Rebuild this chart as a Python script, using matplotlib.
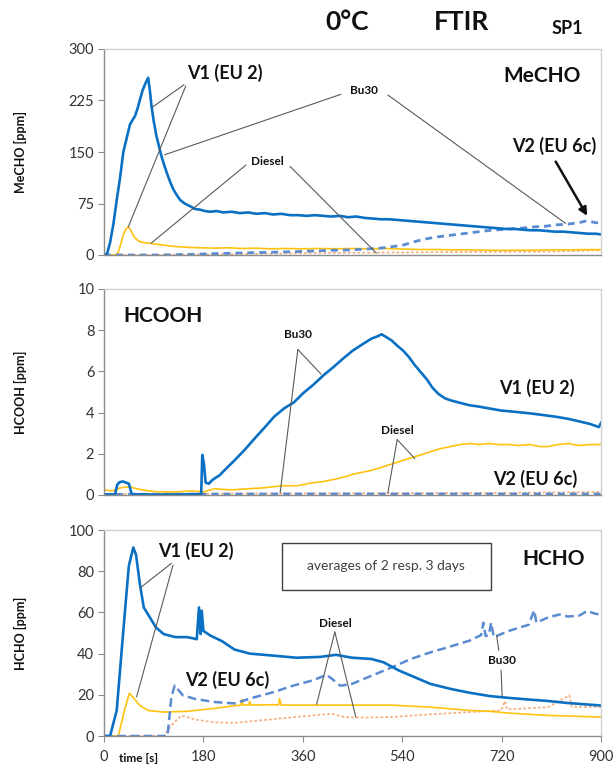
import matplotlib
matplotlib.use("Agg")
import matplotlib.pyplot as plt
from matplotlib.patches import Rectangle

plt.rcParams['font.family'] = ['Lato', 'DejaVu Sans']

# ---------------- data ----------------
# MeCHO panel
mecho_v1_bu30_t = [0, 2, 6, 11, 17, 23, 29, 35, 41, 47, 52, 56, 61, 65, 70, 74, 78, 80, 83, 86, 90, 95, 100, 104,
                   109, 114, 120, 126, 132, 138, 146, 156, 165, 174, 183, 192, 204, 216, 231, 246, 261, 276, 291,
                   306, 321, 337, 352, 367, 382, 397, 412, 427, 442, 457, 472, 487, 502, 517, 532, 547, 562, 577,
                   592, 607, 622, 637, 652, 667, 682, 697, 712, 727, 742, 757, 772, 787, 802, 817, 832, 847, 862,
                   877, 890, 900]
mecho_v1_bu30 = [0, 0, 3, 18, 45, 80, 112, 150, 170, 190, 197, 202, 214, 226, 240, 248, 255, 258, 240, 217, 195,
                 173, 157, 144, 131, 119, 106, 95, 87, 80, 75, 71, 67, 66, 64, 63, 64, 62, 63, 61, 62, 60, 61, 59,
                 60, 58, 58, 57, 58, 57, 56, 57, 55, 56, 54, 53, 52, 52, 51, 50, 49, 48, 47, 46, 45, 44, 43, 42,
                 41, 40, 39, 38, 38, 37, 36, 36, 35, 34, 34, 33, 32, 31, 31, 30]
mecho_v1_diesel_t = [0, 20, 25, 30, 35, 40, 44, 48, 54, 60, 65, 72, 83, 95, 107, 120, 135, 156, 175, 200, 225, 250,
                     275, 300, 330, 360, 390, 420, 450, 480, 510, 540, 570, 600, 630, 660, 690, 720, 750, 780, 810,
                     840, 870, 900]
mecho_v1_diesel = [0, 0, 2, 15, 30, 38, 41, 37, 27, 22, 19.5, 18, 17, 15.5, 14.6, 13, 12, 11, 10.5, 10, 10.5, 9.5,
                   10, 9, 9.5, 9, 9.5, 9, 9.5, 9, 9.5, 8.7, 8, 8, 7.5, 7.5, 7, 6.8, 7, 7, 7.5, 7.5, 7.8, 7.8]
mecho_v2_bu30_t = [0, 100, 130, 160, 200, 250, 300, 350, 400, 450, 480, 500, 520, 540, 560, 580, 600, 620, 640, 660,
                   680, 700, 720, 740, 760, 780, 800, 820, 840, 860, 875, 890, 900]
mecho_v2_bu30 = [0, 0, 0.5, 1, 2, 3, 4, 5, 6.5, 7.5, 9, 10, 12, 14, 19, 23, 26, 28, 30, 32, 34, 36, 37, 38, 39.5, 41,
                 42, 44, 45, 47, 50, 47, 47]
mecho_v2_diesel_t = [0, 120, 200, 300, 400, 500, 600, 700, 800, 860, 900]
mecho_v2_diesel = [0, 0, 1, 2, 3, 3.5, 4, 4.5, 5, 6, 7]

# HCOOH panel
hcooh_v1_bu30_t = [0, 20, 24, 28, 34, 40, 45, 50, 60, 100, 150, 176, 178, 181, 184, 190, 195, 200, 209, 220, 237,
                   255, 273, 290, 308, 326, 344, 361, 379, 397, 415, 432, 450, 467, 485, 495, 503, 512, 521, 531,
                   542, 552, 563, 574, 585, 595, 606, 617, 627, 648, 663, 677, 698, 719, 740, 769, 790, 818, 840,
                   861, 880, 896, 900]
hcooh_v1_bu30 = [0.02, 0.03, 0.5, 0.62, 0.66, 0.6, 0.55, 0.05, 0.03, 0.02, 0.03, 0.05, 1.95, 1.5, 0.6, 0.55, 0.7,
                 0.8, 0.95, 1.25, 1.7, 2.2, 2.75, 3.25, 3.8, 4.2, 4.5, 4.95, 5.35, 5.8, 6.2, 6.6, 7.0, 7.3, 7.6,
                 7.7, 7.8, 7.65, 7.5, 7.25, 7.0, 6.7, 6.3, 5.95, 5.6, 5.2, 4.9, 4.7, 4.6, 4.45, 4.35, 4.3, 4.2, 4.1,
                 4.05, 3.97, 3.9, 3.8, 3.7, 3.57, 3.45, 3.3, 3.5]
hcooh_v1_diesel_t = [0, 15, 30, 46, 60, 80, 100, 130, 160, 180, 200, 230, 260, 290, 322, 350, 379, 397, 415, 432,
                     450, 467, 485, 503, 521, 538, 556, 574, 591, 609, 627, 645, 663, 680, 698, 715, 733, 750, 770,
                     790, 804, 822, 840, 860, 880, 900]
hcooh_v1_diesel = [0.25, 0.2, 0.35, 0.4, 0.3, 0.2, 0.15, 0.15, 0.2, 0.15, 0.3, 0.25, 0.3, 0.35, 0.45, 0.45, 0.6,
                   0.65, 0.75, 0.85, 1.0, 1.1, 1.2, 1.35, 1.5, 1.65, 1.8, 1.95, 2.1, 2.25, 2.35, 2.45, 2.5, 2.45,
                   2.5, 2.45, 2.45, 2.4, 2.45, 2.35, 2.35, 2.45, 2.5, 2.4, 2.45, 2.45]
hcooh_v2_bu30_t = [0, 150, 300, 450, 600, 750, 900]
hcooh_v2_bu30 = [0.03, 0.04, 0.05, 0.05, 0.05, 0.05, 0.05]
hcooh_v2_diesel_t = [0, 200, 400, 550, 700, 800, 900]
hcooh_v2_diesel = [0.05, 0.06, 0.08, 0.09, 0.1, 0.12, 0.15]

# HCHO panel
hcho_v1_bu30_t = [0, 11, 23, 33, 40, 45, 53, 58, 65, 72, 83, 94, 108, 129, 151, 168, 172, 175, 177, 180, 193, 214,
                  236, 264, 307, 349, 392, 420, 449, 484, 506, 534, 563, 591, 627, 662, 698, 733, 769, 804, 840,
                  875, 900]
hcho_v1_bu30 = [0, 0, 12.4, 44.7, 67, 82.6, 91.5, 88, 73.7, 62.4, 57.6, 52.7, 49.5, 48, 48, 47, 62.4, 49.5, 60.8,
                51, 48.7, 46, 42, 40, 39, 38, 38.4, 39.4, 38, 37.4, 35.8, 31.8, 28.5, 25.3, 22.9, 21, 19.4, 18.5,
                17.7, 17, 16, 15.3, 14.8]
hcho_v1_diesel_t = [0, 26, 37, 46, 55, 65, 80, 108, 151, 200, 236, 248, 250, 252, 262, 264, 266, 307, 316, 318,
                    321, 378, 450, 520, 591, 662, 698, 733, 804, 900]
hcho_v1_diesel = [0, 0, 12.4, 20.8, 18, 14.8, 12.4, 11.6, 12, 13.4, 14.7, 15, 17.7, 15, 15, 16.8, 15, 15.2, 15,
                  18.2, 15, 15, 15, 15, 14, 12.4, 12, 11.1, 10, 9.2]
hcho_v2_bu30_t = [0, 115, 122, 128, 143, 165, 200, 236, 271, 307, 342, 378, 403, 413, 428, 449, 484, 520, 556, 591,
                  627, 662, 683, 687, 691, 697, 701, 706, 733, 769, 779, 783, 804, 825, 840, 861, 875, 889, 900]
hcho_v2_bu30 = [0, 0, 18.9, 24.5, 19.7, 18, 16.5, 15.8, 18.7, 21.3, 24.4, 27, 29.7, 27.7, 24.4, 25.3, 29.2, 33.2,
                37.4, 40.6, 43.4, 46.3, 49, 55, 48.5, 49, 55, 48, 51, 54, 61, 55, 57.6, 59, 58, 58.5, 60.7, 59.4,
                58.9]
hcho_v2_diesel_t = [0, 108, 125, 140, 165, 200, 236, 307, 378, 413, 435, 463, 520, 591, 662, 719, 726, 730, 804,
                    843, 847, 900]
hcho_v2_diesel = [0, 0, 6, 10, 8, 6.6, 6.4, 8.2, 10, 10.8, 9.2, 8.9, 9.2, 10.5, 11.6, 12.4, 17, 12.9, 14, 19.7,
                  14.2, 14]

time_ticks = [0, 180, 360, 540, 720, 900]

# ---------------- style ----------------
c_bu30_v1 = '#0a70c4'
c_diesel_v1 = '#ffc20e'
c_bu30_v2 = '#5b8bd0'
c_diesel_v2 = '#f5b183'
lead = '#5a5a5a'

fig = plt.figure(figsize=(6.14, 7.67), dpi=100)
L, W = 104 / 614, 497 / 614
H = 206 / 767
ax1 = fig.add_axes([L, 1 - 255 / 767, W, H])
ax2 = fig.add_axes([L, 1 - 495 / 767, W, H])
ax3 = fig.add_axes([L, 1 - 736 / 767, W, H])


def style(ax, ymax, step, bottom_labels):
    ax.set_xlim(0, 900)
    ax.set_ylim(0, ymax)
    ax.set_yticks(range(0, ymax + 1, step))
    ax.set_xticks(time_ticks)
    for s in ['top', 'right']:
        ax.spines[s].set_color('#d0d0d0')
    for s in ['left', 'bottom']:
        ax.spines[s].set_color('#8c8c8c')
    for s in ax.spines.values():
        s.set_linewidth(1.0)
    ax.tick_params(axis='y', direction='out', length=4, color='#8c8c8c', labelsize=10.5, labelcolor='#333333', pad=3)
    if bottom_labels:
        ax.tick_params(axis='x', direction='out', length=4, color='#8c8c8c', labelsize=10.5, labelcolor='#333333',
                       pad=6)
    else:
        ax.tick_params(axis='x', length=0, labelbottom=False)


def leader(ax, start, end):
    ax.annotate('', xy=end, xytext=start,
                arrowprops=dict(arrowstyle='-', color=lead, lw=0.8, shrinkA=0, shrinkB=0))


big = dict(fontsize=13, fontweight='bold', color='#111111', ha='center', va='center')
small = dict(fontsize=8.5, fontweight='bold', color='#111111', ha='center', va='center')

# ---- MeCHO
ax1.plot(mecho_v2_diesel_t, mecho_v2_diesel, color=c_diesel_v2, lw=1.3, ls=(0, (1.5, 1.2)))
ax1.plot(mecho_v1_diesel_t, mecho_v1_diesel, color=c_diesel_v1, lw=1.2)
ax1.plot(mecho_v2_bu30_t, mecho_v2_bu30, color=c_bu30_v2, lw=2.0, ls=(0, (2.5, 1.8)))
ax1.plot(mecho_v1_bu30_t, mecho_v1_bu30, color=c_bu30_v1, lw=1.9)
style(ax1, 300, 75, False)
ax1.text(218, 265, 'V1 (EU 2)', **big)
leader(ax1, (145, 248), (87, 215))
leader(ax1, (148, 246), (44, 41))
ax1.text(471, 239, 'Bu30', **small)
leader(ax1, (429, 234), (110, 146))
leader(ax1, (514, 233), (836, 46))
ax1.text(296, 136, 'Diesel', **small)
leader(ax1, (257, 131), (85, 17))
leader(ax1, (337, 129), (493, 3))
ax1.text(815, 159, 'V2 (EU 6c)', **big)
ax1.annotate('', xy=(875, 57), xytext=(818, 136),
             arrowprops=dict(arrowstyle='-|>', color='#111111', lw=1.8, mutation_scale=12, shrinkA=0, shrinkB=0))
ax1.text(793, 261, 'MeCHO', fontsize=15, fontweight='bold', color='#111111', ha='center', va='center')

# ---- HCOOH
ax2.plot(hcooh_v2_diesel_t, hcooh_v2_diesel, color=c_diesel_v2, lw=1.3, ls=(0, (1.5, 1.2)))
ax2.plot(hcooh_v2_bu30_t, hcooh_v2_bu30, color=c_bu30_v2, lw=2.0, ls=(0, (2.5, 1.8)))
ax2.plot(hcooh_v1_diesel_t, hcooh_v1_diesel, color=c_diesel_v1, lw=1.2)
ax2.plot(hcooh_v1_bu30_t, hcooh_v1_bu30, color=c_bu30_v1, lw=1.9)
style(ax2, 10, 2, False)
ax2.text(106, 8.67, 'HCOOH', fontsize=15, fontweight='bold', color='#111111', ha='center', va='center')
ax2.text(351, 7.79, 'Bu30', **small)
leader(ax2, (351, 7.06), (393, 5.87))
leader(ax2, (351, 7.06), (319, 0.1))
ax2.text(531, 3.13, 'Diesel', **small)
leader(ax2, (531, 2.69), (563, 1.76))
leader(ax2, (531, 2.69), (514, 0.1))
ax2.text(783, 5.22, 'V1 (EU 2)', **big)
ax2.text(780, 0.8, 'V2 (EU 6c)', **big)

# ---- HCHO
ax3.plot(hcho_v2_diesel_t, hcho_v2_diesel, color=c_diesel_v2, lw=1.3, ls=(0, (1.5, 1.2)))
ax3.plot(hcho_v1_diesel_t, hcho_v1_diesel, color=c_diesel_v1, lw=1.2)
ax3.plot(hcho_v2_bu30_t, hcho_v2_bu30, color=c_bu30_v2, lw=1.8, ls=(0, (3.5, 1.8)))
ax3.plot(hcho_v1_bu30_t, hcho_v1_bu30, color=c_bu30_v1, lw=1.9)
style(ax3, 100, 20, True)
ax3.set_xticklabels(['0', '180', '360', '540', '720', '900'])
ax3.text(167, 89.8, 'V1 (EU 2)', **big)
leader(ax3, (122, 83.8), (66, 72))
leader(ax3, (125, 83), (59, 19))
ax3.text(223, 27.2, 'V2 (EU 6c)', **big)
ax3.text(419, 54.4, 'Diesel', **small)
leader(ax3, (418, 50.5), (385, 15.4))
leader(ax3, (418, 50.5), (456, 9.2))
ax3.text(721, 36.6, 'Bu30', **small)
leader(ax3, (715, 41.5), (711, 48.7))
leader(ax3, (719, 32), (721, 19.5))
ax3.add_patch(Rectangle((0.358, 0.709), 0.421, 0.228, transform=ax3.transAxes, fill=False,
                        edgecolor='#404040', lw=1.0))
ax3.text(0.568, 0.823, 'averages of 2 resp. 3 days', transform=ax3.transAxes, fontsize=10, color='#404040',
         ha='center', va='center')
ax3.text(0.905, 0.859, 'HCHO', transform=ax3.transAxes, fontsize=15, fontweight='bold', color='#111111',
         ha='center', va='center')

# ---- axis labels and titles
fig.text(139 / 614, 1 - 759 / 767, 'time [s]', fontsize=8.5, fontweight='bold', color='#111111', ha='center',
         va='center')
for ylab, yc in [('MeCHO [ppm]', 152), ('HCOOH [ppm]', 392), ('HCHO [ppm]', 633)]:
    fig.text(20 / 614, 1 - yc / 767, ylab, fontsize=9, fontweight='bold', color='#111111', rotation=90,
             ha='center', va='center')
fig.text(347 / 614, 1 - 22 / 767, '0°C', fontsize=19, fontweight='bold', color='#111111', ha='center', va='center')
fig.text(462 / 614, 1 - 22 / 767, 'FTIR', fontsize=19, fontweight='bold', color='#111111', ha='center', va='center')
fig.text(567 / 614, 1 - 29 / 767, 'SP1', fontsize=13, fontweight='bold', color='#111111', ha='center', va='center')

fig.savefig('out.png', dpi=100)
